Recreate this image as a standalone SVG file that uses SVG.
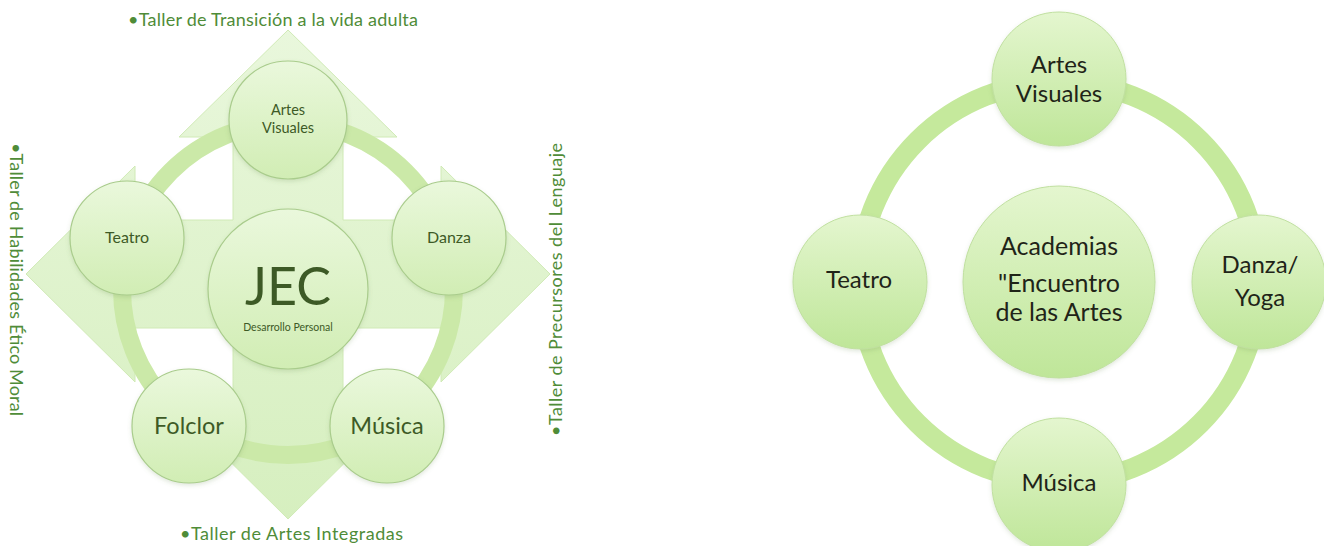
<svg xmlns="http://www.w3.org/2000/svg" width="1324" height="546" viewBox="0 0 1324 546">
  <style>
    .t { font-family: Lato, "Open Sans", "Liberation Sans", sans-serif; text-anchor: middle; }
    .lab { font-family: Lato, "Open Sans", "Liberation Sans", sans-serif; font-size: 18px; fill: #4f8c38; }
    .ln { fill: #3d5a26; }
    .rn { fill: #1f2418; }
    .cl { fill: url(#gL); stroke: #a9cc8c; stroke-width: 1.2; filter: url(#sh); }
    .cr { fill: url(#gR); stroke: #c0e0a0; stroke-width: 1; filter: url(#sh); }
  </style>
  <defs>
    <linearGradient id="gCross" x1="0" y1="0" x2="0" y2="1">
      <stop offset="0" stop-color="#e9f7dc"/>
      <stop offset="1" stop-color="#d6efbf"/>
    </linearGradient>
    <linearGradient id="gL" x1="0" y1="0" x2="0" y2="1">
      <stop offset="0" stop-color="#eaf8dc"/>
      <stop offset="1" stop-color="#d1edb4"/>
    </linearGradient>
    <linearGradient id="gR" x1="0" y1="0" x2="0" y2="1">
      <stop offset="0" stop-color="#e4f6cf"/>
      <stop offset="1" stop-color="#bfe699"/>
    </linearGradient>
    <filter id="sh" x="-20%" y="-20%" width="140%" height="140%">
      <feDropShadow dx="0" dy="2" stdDeviation="2" flood-color="#6a8a50" flood-opacity="0.2"/>
    </filter>
  </defs>
  <rect width="1324" height="546" fill="#ffffff"/>

  <!-- Left diagram: quad arrow background -->
  <g id="quad-arrow">
    <path d="M288,30 L397,137 L343,137 L343,220 L441,220 L441,166 L550,274 L441,382 L441,328 L343,328 L343,411 L397,411 L288,519 L179,411 L233,411 L233,328 L135,328 L135,382 L26,274 L135,166 L135,220 L233,220 L233,137 L179,137 Z" fill="url(#gCross)" stroke="#d0eab6" stroke-width="1"/>
  </g>

  <!-- Connectors (rings) -->
  <g id="connectors" fill="none">
    <circle cx="288" cy="289" r="166" stroke="#cbe9a8" stroke-width="18"/>
    <circle cx="1059" cy="282" r="200" stroke="#c5e99c" stroke-width="20"/>
  </g>

  <!-- Left diagram nodes -->
  <g id="l-artes-visuales">
    <circle class="cl" cx="288" cy="120" r="59"/>
    <text class="t ln" x="288" y="115" font-size="14.5">Artes</text>
    <text class="t ln" x="288" y="133" font-size="14.5">Visuales</text>
  </g>
  <g id="l-teatro">
    <circle class="cl" cx="127" cy="238" r="57"/>
    <text class="t ln" x="127" y="243" font-size="16">Teatro</text>
  </g>
  <g id="l-danza">
    <circle class="cl" cx="449" cy="238" r="57"/>
    <text class="t ln" x="449" y="243" font-size="16">Danza</text>
  </g>
  <g id="l-jec">
    <circle class="cl" cx="288" cy="289" r="80"/>
    <text class="t ln" x="288" y="305" font-size="52">JEC</text>
    <text class="t ln" x="288" y="331" font-size="10.5">Desarrollo Personal</text>
  </g>
  <g id="l-folclor">
    <circle class="cl" cx="189" cy="426" r="57"/>
    <text class="t ln" x="189" y="434" font-size="23.5">Folclor</text>
  </g>
  <g id="l-musica">
    <circle class="cl" cx="387" cy="426" r="57"/>
    <text class="t ln" x="387" y="434" font-size="23.5">Música</text>
  </g>

  <!-- Left diagram labels -->
  <g id="labels">
    <text class="lab" x="128" y="26" textLength="290">•Taller de Transición a la vida adulta</text>
    <text class="lab" x="180" y="540" textLength="223">•Taller de Artes Integradas</text>
    <text class="lab" transform="translate(10,143) rotate(90)" x="0" y="0" textLength="273">•Taller de Habilidades Ético Moral</text>
    <text class="lab" transform="translate(562,436) rotate(-90)" x="0" y="0" textLength="293">•Taller de Precursores del Lenguaje</text>
  </g>

  <!-- Right diagram nodes -->
  <g id="r-academias">
    <circle class="cr" cx="1059" cy="282" r="96"/>
    <text class="t rn" x="1059" y="255" font-size="25">Academias</text>
    <text class="t rn" x="1059" y="292" font-size="25">"Encuentro</text>
    <text class="t rn" x="1059" y="321" font-size="25">de las Artes</text>
  </g>
  <g id="r-artes-visuales">
    <circle class="cr" cx="1059" cy="79" r="67"/>
    <text class="t rn" x="1059" y="73" font-size="24">Artes</text>
    <text class="t rn" x="1059" y="102" font-size="24">Visuales</text>
  </g>
  <g id="r-teatro">
    <circle class="cr" cx="860" cy="282" r="67"/>
    <text class="t rn" x="859" y="288" font-size="24">Teatro</text>
  </g>
  <g id="r-danza-yoga">
    <circle class="cr" cx="1259" cy="282" r="67"/>
    <text class="t rn" x="1260" y="273" font-size="24">Danza/</text>
    <text class="t rn" x="1260" y="306" font-size="24">Yoga</text>
  </g>
  <g id="r-musica">
    <circle class="cr" cx="1059" cy="485" r="67"/>
    <text class="t rn" x="1059" y="491" font-size="24">Música</text>
  </g>
</svg>
